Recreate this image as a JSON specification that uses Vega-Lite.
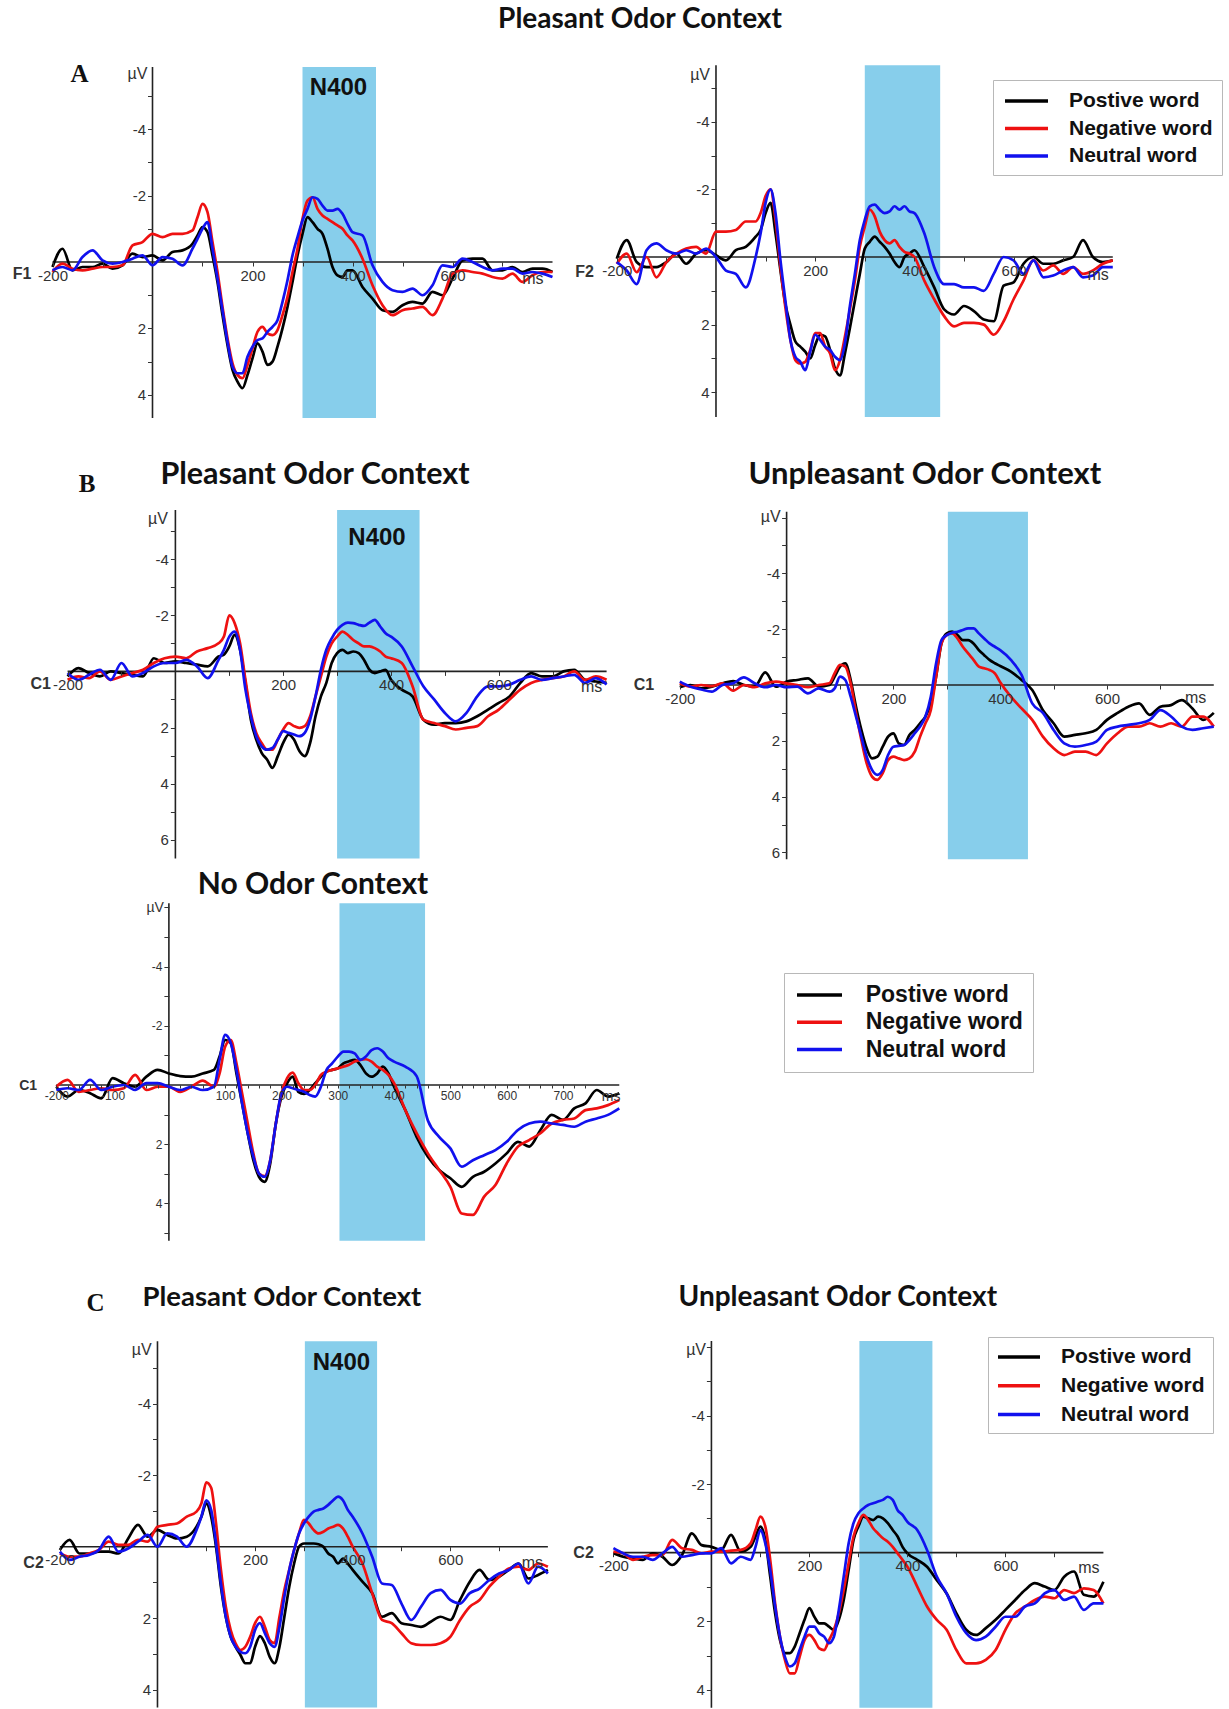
{
"$schema":"https://vega.github.io/schema/vega-lite/v6.json",
"background":"white","padding":0,"spacing":0,"bounds":"flush","align":"each","columns":2,
"config":{"view":{"stroke":null},"font":"Liberation Sans","axis":{"domain":false,"grid":false,"tickColor":"#333","labelFont":"Liberation Sans","labelFontSize":15,"labelColor":"#333","labelOverlap":false,"labelFlush":false,"labelBound":false,"labelPadding":2}},
"resolve":{"scale":{"x":"independent","y":"independent","color":"independent"},"legend":{"color":"independent"}},
"concat":[
{"width":590,"height":445,
"data":{"values":[
{"t":-200,"a":0.15,"b":0.3,"c":0.25},{"t":-180,"a":-0.4,"b":0.05,"c":0.15},{"t":-160,"a":0.25,"b":0.2,"c":0.25},{"t":-140,"a":0.15,"b":0.25,"c":-0.15},{"t":-120,"a":0.15,"b":0.2,"c":-0.35},{"t":-100,"a":0.05,"b":0.15,"c":-0.05},{"t":-80,"a":0.2,"b":0.15,"c":0.05},{"t":-60,"a":0.1,"b":0.1,"c":0.0},{"t":-40,"a":-0.25,"b":-0.5,"c":-0.1},{"t":-20,"a":-0.15,"b":-0.6,"c":-0.2},{"t":0,"a":-0.2,"b":-0.85,"c":0.1},{"t":20,"a":-0.05,"b":-0.75,"c":-0.15},{"t":40,"a":-0.3,"b":-0.85,"c":-0.1},{"t":60,"a":-0.35,"b":-0.85,"c":0.1},{"t":80,"a":-0.55,"b":-0.95,"c":-0.4},{"t":90,"a":-0.8,"b":-1.35,"c":-0.7},{"t":100,"a":-1.05,"b":-1.75,"c":-1.0},{"t":110,"a":-0.9,"b":-1.5,"c":-1.2},{"t":120,"a":-0.2,"b":-0.6,"c":-0.4},{"t":130,"a":0.6,"b":0.3,"c":0.5},{"t":140,"a":1.6,"b":1.35,"c":1.45},{"t":150,"a":2.5,"b":2.3,"c":2.4},{"t":160,"a":3.25,"b":3.05,"c":3.15},{"t":170,"a":3.6,"b":3.4,"c":3.35},{"t":180,"a":3.8,"b":3.5,"c":3.35},{"t":190,"a":3.4,"b":3.1,"c":2.85},{"t":200,"a":2.9,"b":2.6,"c":2.55},{"t":210,"a":2.45,"b":2.1,"c":2.35},{"t":220,"a":2.7,"b":1.95,"c":2.3},{"t":230,"a":3.1,"b":2.15,"c":2.1},{"t":240,"a":3.0,"b":2.2,"c":1.95},{"t":250,"a":2.55,"b":2.05,"c":1.75},{"t":260,"a":2.0,"b":1.6,"c":1.2},{"t":270,"a":1.35,"b":1.05,"c":0.55},{"t":280,"a":0.6,"b":0.3,"c":-0.2},{"t":290,"a":-0.2,"b":-0.4,"c":-0.75},{"t":300,"a":-0.85,"b":-1.3,"c":-1.25},{"t":310,"a":-1.35,"b":-1.85,"c":-1.6},{"t":320,"a":-1.2,"b":-1.95,"c":-1.95},{"t":330,"a":-1.0,"b":-1.6,"c":-1.9},{"t":340,"a":-0.85,"b":-1.4,"c":-1.7},{"t":350,"a":-0.4,"b":-1.3,"c":-1.55},{"t":360,"a":0.15,"b":-1.2,"c":-1.55},{"t":370,"a":0.4,"b":-1.1,"c":-1.6},{"t":380,"a":0.45,"b":-1.0,"c":-1.45},{"t":390,"a":0.25,"b":-0.8,"c":-1.15},{"t":400,"a":0.25,"b":-0.65,"c":-0.9},{"t":420,"a":0.75,"b":-0.1,"c":-0.8},{"t":440,"a":1.1,"b":0.7,"c":0.1},{"t":460,"a":1.45,"b":1.3,"c":0.6},{"t":480,"a":1.5,"b":1.6,"c":0.85},{"t":500,"a":1.3,"b":1.45,"c":0.9},{"t":520,"a":1.2,"b":1.4,"c":0.8},{"t":540,"a":1.25,"b":1.35,"c":1.0},{"t":560,"a":0.9,"b":1.6,"c":0.7},{"t":580,"a":1.0,"b":1.1,"c":0.1},{"t":600,"a":0.5,"b":0.35,"c":0.15},{"t":620,"a":-0.05,"b":0.25,"c":-0.1},{"t":640,"a":-0.1,"b":0.3,"c":0.0},{"t":660,"a":-0.1,"b":0.35,"c":0.15},{"t":680,"a":0.25,"b":0.45,"c":0.25},{"t":700,"a":0.25,"b":0.5,"c":0.2},{"t":720,"a":0.15,"b":0.35,"c":0.2},{"t":740,"a":0.3,"b":0.6,"c":0.35},{"t":760,"a":0.2,"b":0.4,"c":0.3},{"t":780,"a":0.2,"b":0.3,"c":0.35},{"t":800,"a":0.3,"b":0.3,"c":0.45}]},
"encoding":{
"x":{"field":"t","type":"quantitative","scale":{"domain":[-305,875],"nice":false,"zero":false},"axis":{"orient":"bottom","offset":-183,"values":[-200,-100,100,200,300,400,500,600,700],"labelExpr":"datum.value==-200||datum.value==200||datum.value==400||datum.value==600?''+datum.value:''","title":null,"tickSize":4,"zindex":1}},
"y":{"field":"v","type":"quantitative","scale":{"domain":[-7.89,5.51],"reverse":true,"nice":false,"zero":false},"axis":{"orient":"left","offset":-152.5,"values":[-5,-4,-3,-2,-1,1,2,3,4],"labelExpr":"datum.value%2==0?''+datum.value:''","title":null,"tickSize":5,"zindex":1}}},
"layer":[
{"data":{"values":[{"t":300,"t2":447,"v":-5.87,"v2":4.7}]},"mark":{"type":"rect","color":"#87ceeb","opacity":1},"encoding":{"x2":{"field":"t2"},"y2":{"field":"v2"}}},
{"data":{"values":[{"t":-200,"t2":800,"v":0}]},"mark":{"type":"rule","color":"#222","strokeWidth":1.6},"encoding":{"x2":{"field":"t2"}}},
{"data":{"values":[{"t":0,"v":-5.87,"v2":4.7}]},"mark":{"type":"rule","color":"#222","strokeWidth":1.6},"encoding":{"y2":{"field":"v2"}}},
{"transform":[{"fold":["a","b","c"],"as":["w","v"]}],"mark":{"type":"line","strokeWidth":2.7,"interpolate":"monotone"},"encoding":{"color":{"field":"w","type":"nominal","scale":{"domain":["a","b","c"],"range":["#000000","#ee1111","#1111ee"]},"legend":null}}},
{"data":{"values":[{"t":-10,"v":-5.65,"s":"µV"},{"t":782,"v":0.5,"s":"ms"}]},"mark":{"type":"text","align":"right","fontSize":16,"color":"#333","font":"Liberation Sans"},"encoding":{"text":{"field":"s"}}},
{"data":{"values":[{"t":-242,"v":0.36,"s":"F1"}]},"mark":{"type":"text","align":"right","fontSize":16,"fontWeight":"bold","color":"#333","font":"Liberation Sans"},"encoding":{"text":{"field":"s"}}},
{"data":{"values":[{"t":372,"v":-5.25,"s":"N400"}]},"mark":{"type":"text","fontSize":24,"fontWeight":"bold","color":"#111","font":"Liberation Sans"},"encoding":{"text":{"field":"s"}}},
{"data":{"values":[{"t":975,"v":-7.3,"s":"Pleasant Odor Context"}]},"mark":{"type":"text","fontSize":28,"fontWeight":"bold","color":"#111","font":"Lato"},"encoding":{"text":{"field":"s"}}},
{"data":{"values":[{"t":-146,"v":-5.66,"s":"A"}]},"mark":{"type":"text","fontSize":25,"fontWeight":"bold","color":"#111","font":"Liberation Serif"},"encoding":{"text":{"field":"s"}}}
]},
{"width":639,"height":445,
"data":{"values":[
{"t":-200,"a":0.05,"b":0.2,"c":0.15},{"t":-180,"a":-0.5,"b":-0.1,"c":0.4},{"t":-160,"a":0.15,"b":0.45,"c":0.8},{"t":-140,"a":0.3,"b":0.0,"c":-0.2},{"t":-120,"a":0.3,"b":0.6,"c":-0.4},{"t":-100,"a":0.15,"b":0.15,"c":-0.2},{"t":-80,"a":-0.1,"b":-0.1,"c":-0.1},{"t":-60,"a":0.2,"b":-0.25,"c":-0.2},{"t":-40,"a":-0.1,"b":-0.3,"c":-0.1},{"t":-20,"a":-0.2,"b":-0.1,"c":-0.25},{"t":0,"a":-0.05,"b":-0.75,"c":0.0},{"t":20,"a":0.1,"b":-0.75,"c":0.4},{"t":40,"a":-0.2,"b":-0.8,"c":0.5},{"t":60,"a":-0.3,"b":-1.05,"c":0.9},{"t":80,"a":-0.6,"b":-1.05,"c":0.0},{"t":90,"a":-0.8,"b":-1.3,"c":-0.7},{"t":100,"a":-1.3,"b":-1.8,"c":-1.6},{"t":110,"a":-1.6,"b":-2.0,"c":-2.0},{"t":120,"a":-0.7,"b":-1.1,"c":-1.3},{"t":130,"a":0.4,"b":0.3,"c":0.1},{"t":140,"a":1.4,"b":1.5,"c":1.3},{"t":150,"a":2.0,"b":2.45,"c":2.45},{"t":160,"a":2.5,"b":3.05,"c":2.95},{"t":170,"a":2.65,"b":3.15,"c":3.1},{"t":180,"a":2.8,"b":3.1,"c":3.35},{"t":190,"a":3.0,"b":2.75,"c":2.8},{"t":200,"a":2.6,"b":2.25,"c":2.3},{"t":210,"a":2.3,"b":2.25,"c":2.45},{"t":220,"a":2.35,"b":2.65,"c":2.65},{"t":230,"a":2.75,"b":2.85,"c":2.75},{"t":240,"a":3.3,"b":3.35,"c":2.95},{"t":250,"a":3.5,"b":3.05,"c":3.05},{"t":260,"a":2.85,"b":2.35,"c":2.55},{"t":270,"a":2.1,"b":1.55,"c":1.45},{"t":280,"a":1.3,"b":0.7,"c":0.5},{"t":290,"a":0.5,"b":-0.3,"c":-0.5},{"t":300,"a":-0.25,"b":-0.9,"c":-1.1},{"t":310,"a":-0.45,"b":-1.4,"c":-1.5},{"t":320,"a":-0.6,"b":-1.2,"c":-1.55},{"t":330,"a":-0.45,"b":-0.75,"c":-1.4},{"t":340,"a":-0.3,"b":-0.5,"c":-1.3},{"t":350,"a":-0.1,"b":-0.4,"c":-1.35},{"t":360,"a":0.15,"b":-0.5,"c":-1.5},{"t":370,"a":0.3,"b":-0.3,"c":-1.4},{"t":380,"a":0.0,"b":-0.15,"c":-1.5},{"t":390,"a":-0.1,"b":-0.1,"c":-1.35},{"t":400,"a":-0.2,"b":0.0,"c":-1.3},{"t":420,"a":0.3,"b":0.7,"c":-0.7},{"t":440,"a":0.9,"b":1.25,"c":0.3},{"t":460,"a":1.55,"b":1.75,"c":0.8},{"t":480,"a":1.7,"b":2.05,"c":0.8},{"t":500,"a":1.45,"b":1.95,"c":0.9},{"t":520,"a":1.6,"b":1.95,"c":0.9},{"t":540,"a":1.85,"b":2.0,"c":1.0},{"t":560,"a":1.9,"b":2.3,"c":0.5},{"t":580,"a":0.85,"b":1.9,"c":0.0},{"t":600,"a":0.75,"b":1.25,"c":0.1},{"t":620,"a":0.2,"b":0.7,"c":0.5},{"t":640,"a":0.0,"b":0.1,"c":0.1},{"t":660,"a":0.2,"b":0.4,"c":0.6},{"t":680,"a":0.2,"b":0.25,"c":0.55},{"t":700,"a":0.1,"b":0.5,"c":0.4},{"t":720,"a":0.0,"b":0.3,"c":0.3},{"t":740,"a":-0.5,"b":0.5,"c":0.6},{"t":760,"a":0.0,"b":0.4,"c":0.55},{"t":780,"a":0.15,"b":0.2,"c":0.3},{"t":800,"a":0.1,"b":0.1,"c":0.3}]},
"encoding":{
"x":{"field":"t","type":"quantitative","scale":{"domain":[-254,1034.3],"nice":false,"zero":false},"axis":{"orient":"bottom","offset":-188,"values":[-200,-100,100,200,300,400,500,600,700],"labelExpr":"datum.value==-200||datum.value==200||datum.value==400||datum.value==600?''+datum.value:''","title":null,"tickSize":4,"zindex":1}},
"y":{"field":"v","type":"quantitative","scale":{"domain":[-7.6,5.56],"reverse":true,"nice":false,"zero":false},"axis":{"orient":"left","offset":-126,"values":[-5,-4,-3,-2,-1,1,2,3,4],"labelExpr":"datum.value%2==0?''+datum.value:''","title":null,"tickSize":5,"zindex":1}}},
"layer":[
{"data":{"values":[{"t":300,"t2":452,"v":-5.67,"v2":4.73}]},"mark":{"type":"rect","color":"#87ceeb","opacity":1},"encoding":{"x2":{"field":"t2"},"y2":{"field":"v2"}}},
{"data":{"values":[{"t":-200,"t2":800,"v":0}]},"mark":{"type":"rule","color":"#222","strokeWidth":1.6},"encoding":{"x2":{"field":"t2"}}},
{"data":{"values":[{"t":0,"v":-5.67,"v2":4.73}]},"mark":{"type":"rule","color":"#222","strokeWidth":1.6},"encoding":{"y2":{"field":"v2"}}},
{"transform":[{"fold":["a","b","c"],"as":["w","v"]}],"mark":{"type":"line","strokeWidth":2.7,"interpolate":"monotone"},"encoding":{"color":{"field":"w","type":"nominal","scale":{"domain":["a","b","c"],"range":["#000000","#ee1111","#1111ee"]},"legend":{"orient":"none","legendX":403,"legendY":80,"title":null,"padding":9,"strokeColor":"#b8b8b8","fillColor":"#ffffff","symbolType":"M-0.9,0H3.4","symbolSize":400,"symbolStrokeWidth":3.5,"labelFont":"Liberation Sans","labelFontSize":21,"labelFontWeight":"bold","labelColor":"#111","labelOffset":43,"rowPadding":5.5,"labelExpr":"datum.label=='a'?'Postive word':datum.label=='b'?'Negative word':'Neutral word'"}}}},
{"data":{"values":[{"t":-12,"v":-5.38,"s":"µV"},{"t":792,"v":0.53,"s":"ms"}]},"mark":{"type":"text","align":"right","fontSize":16,"color":"#333","font":"Liberation Sans"},"encoding":{"text":{"field":"s"}}},
{"data":{"values":[{"t":-246,"v":0.44,"s":"F2"}]},"mark":{"type":"text","align":"right","fontSize":16,"fontWeight":"bold","color":"#333","font":"Liberation Sans"},"encoding":{"text":{"field":"s"}}}
]},
{"width":590,"height":420,
"data":{"values":[
{"t":-200,"a":0.18,"b":0.3,"c":0.06},{"t":-180,"a":-0.12,"b":0.18,"c":0.3},{"t":-160,"a":0.06,"b":0.24,"c":0.12},{"t":-140,"a":0.18,"b":0.0,"c":-0.06},{"t":-120,"a":0.0,"b":0.3,"c":0.3},{"t":-100,"a":0.06,"b":0.18,"c":-0.3},{"t":-80,"a":0.12,"b":0.06,"c":0.18},{"t":-60,"a":0.18,"b":-0.06,"c":0.06},{"t":-40,"a":-0.47,"b":-0.3,"c":-0.18},{"t":-20,"a":-0.3,"b":-0.47,"c":-0.3},{"t":0,"a":-0.36,"b":-0.53,"c":-0.3},{"t":20,"a":-0.3,"b":-0.47,"c":-0.41},{"t":40,"a":-0.24,"b":-0.71,"c":-0.18},{"t":60,"a":-0.18,"b":-0.83,"c":0.24},{"t":80,"a":-0.53,"b":-1.0,"c":-0.41},{"t":90,"a":-0.6,"b":-1.24,"c":-0.77},{"t":100,"a":-0.89,"b":-2.0,"c":-1.24},{"t":110,"a":-1.3,"b":-1.72,"c":-1.42},{"t":120,"a":-0.77,"b":-1.0,"c":-0.77},{"t":130,"a":0.41,"b":0.3,"c":0.65},{"t":140,"a":1.72,"b":1.48,"c":1.6},{"t":150,"a":2.43,"b":2.19,"c":2.31},{"t":160,"a":2.9,"b":2.55,"c":2.67},{"t":170,"a":3.14,"b":2.79,"c":2.79},{"t":180,"a":3.44,"b":2.79,"c":2.73},{"t":190,"a":3.02,"b":2.43,"c":2.43},{"t":200,"a":2.55,"b":2.07,"c":2.13},{"t":210,"a":2.25,"b":1.84,"c":2.19},{"t":220,"a":2.43,"b":1.95,"c":2.25},{"t":230,"a":2.84,"b":2.01,"c":2.31},{"t":240,"a":3.02,"b":1.95,"c":2.19},{"t":250,"a":2.55,"b":1.6,"c":1.72},{"t":260,"a":1.6,"b":0.89,"c":0.89},{"t":270,"a":0.89,"b":0.18,"c":-0.06},{"t":280,"a":0.41,"b":-0.53,"c":-0.77},{"t":290,"a":-0.3,"b":-1.0,"c":-1.18},{"t":300,"a":-0.65,"b":-1.24,"c":-1.48},{"t":310,"a":-0.77,"b":-1.42,"c":-1.66},{"t":320,"a":-0.65,"b":-1.3,"c":-1.74},{"t":330,"a":-0.71,"b":-1.12,"c":-1.72},{"t":340,"a":-0.65,"b":-1.0,"c":-1.66},{"t":350,"a":-0.41,"b":-0.89,"c":-1.62},{"t":360,"a":-0.06,"b":-0.89,"c":-1.74},{"t":370,"a":0.06,"b":-0.83,"c":-1.84},{"t":380,"a":0.0,"b":-0.71,"c":-1.6},{"t":390,"a":-0.06,"b":-0.53,"c":-1.36},{"t":400,"a":0.3,"b":-0.47,"c":-1.24},{"t":420,"a":0.65,"b":-0.3,"c":-0.89},{"t":440,"a":0.89,"b":0.53,"c":-0.18},{"t":460,"a":1.72,"b":1.72,"c":0.53},{"t":480,"a":1.9,"b":1.84,"c":1.0},{"t":500,"a":1.84,"b":1.95,"c":1.48},{"t":520,"a":1.84,"b":2.07,"c":1.78},{"t":540,"a":1.78,"b":2.01,"c":1.48},{"t":560,"a":1.6,"b":1.95,"c":0.89},{"t":580,"a":1.36,"b":1.6,"c":0.53},{"t":600,"a":1.12,"b":1.36,"c":0.53},{"t":620,"a":0.89,"b":1.0,"c":0.47},{"t":640,"a":0.41,"b":0.65,"c":0.3},{"t":660,"a":0.06,"b":0.41,"c":0.18},{"t":680,"a":0.18,"b":0.3,"c":0.3},{"t":700,"a":0.18,"b":0.24,"c":0.24},{"t":720,"a":0.0,"b":0.18,"c":0.18},{"t":740,"a":-0.06,"b":0.0,"c":0.12},{"t":760,"a":0.3,"b":0.3,"c":0.41},{"t":780,"a":0.36,"b":0.18,"c":0.24},{"t":800,"a":0.41,"b":0.3,"c":0.47}]},
"encoding":{
"x":{"field":"t","type":"quantitative","scale":{"domain":[-325.4,769.2],"nice":false,"zero":false},"axis":{"orient":"bottom","offset":-193.6,"values":[-200,-100,100,200,300,400,500,600,700],"labelExpr":"datum.value==-200||datum.value==200||datum.value==400||datum.value==600?''+datum.value:''","title":null,"tickSize":4,"zindex":1}},
"y":{"field":"v","type":"quantitative","scale":{"domain":[-8.07,6.9],"reverse":true,"nice":false,"zero":false},"axis":{"orient":"left","offset":-175.4,"values":[-5,-4,-3,-2,-1,1,2,3,4,5,6],"labelExpr":"datum.value%2==0?''+datum.value:''","title":null,"tickSize":5,"zindex":1}}},
"layer":[
{"data":{"values":[{"t":300,"t2":453,"v":-5.75,"v2":6.67}]},"mark":{"type":"rect","color":"#87ceeb","opacity":1},"encoding":{"x2":{"field":"t2"},"y2":{"field":"v2"}}},
{"data":{"values":[{"t":-200,"t2":800,"v":0}]},"mark":{"type":"rule","color":"#222","strokeWidth":1.6},"encoding":{"x2":{"field":"t2"}}},
{"data":{"values":[{"t":0,"v":-5.75,"v2":6.67}]},"mark":{"type":"rule","color":"#222","strokeWidth":1.6},"encoding":{"y2":{"field":"v2"}}},
{"transform":[{"fold":["a","b","c"],"as":["w","v"]}],"mark":{"type":"line","strokeWidth":2.7,"interpolate":"monotone"},"encoding":{"color":{"field":"w","type":"nominal","scale":{"domain":["a","b","c"],"range":["#000000","#ee1111","#1111ee"]},"legend":null}}},
{"data":{"values":[{"t":-14,"v":-5.45,"s":"µV"},{"t":792,"v":0.56,"s":"ms"}]},"mark":{"type":"text","align":"right","fontSize":16,"color":"#333","font":"Liberation Sans"},"encoding":{"text":{"field":"s"}}},
{"data":{"values":[{"t":-231,"v":0.45,"s":"C1"}]},"mark":{"type":"text","align":"right","fontSize":16,"fontWeight":"bold","color":"#333","font":"Liberation Sans"},"encoding":{"text":{"field":"s"}}},
{"data":{"values":[{"t":374,"v":-4.74,"s":"N400"}]},"mark":{"type":"text","fontSize":24,"fontWeight":"bold","color":"#111","font":"Liberation Sans"},"encoding":{"text":{"field":"s"}}},
{"data":{"values":[{"t":259,"v":-7.0,"s":"Pleasant Odor Context"}]},"mark":{"type":"text","fontSize":30.5,"fontWeight":"bold","color":"#111","font":"Lato"},"encoding":{"text":{"field":"s"}}},
{"data":{"values":[{"t":-164,"v":-6.67,"s":"B"}]},"mark":{"type":"text","fontSize":25,"fontWeight":"bold","color":"#111","font":"Liberation Serif"},"encoding":{"text":{"field":"s"}}}
]},
{"width":639,"height":420,
"data":{"values":[
{"t":-200,"a":0.08,"b":-0.06,"c":-0.12},{"t":-180,"a":0.0,"b":0.06,"c":0.06},{"t":-160,"a":0.12,"b":0.0,"c":0.16},{"t":-140,"a":0.06,"b":0.04,"c":0.24},{"t":-120,"a":-0.06,"b":-0.06,"c":0.0},{"t":-100,"a":-0.14,"b":0.2,"c":-0.06},{"t":-80,"a":0.0,"b":0.0,"c":-0.27},{"t":-60,"a":0.06,"b":0.08,"c":-0.06},{"t":-40,"a":-0.45,"b":-0.06,"c":0.08},{"t":-20,"a":0.06,"b":-0.12,"c":0.0},{"t":0,"a":-0.12,"b":-0.06,"c":0.08},{"t":20,"a":-0.18,"b":0.0,"c":0.06},{"t":40,"a":-0.24,"b":0.08,"c":0.3},{"t":60,"a":0.06,"b":0.0,"c":0.12},{"t":80,"a":0.0,"b":-0.06,"c":0.24},{"t":90,"a":-0.3,"b":-0.42,"c":0.12},{"t":100,"a":-0.66,"b":-0.72,"c":-0.3},{"t":110,"a":-0.78,"b":-0.66,"c":-0.18},{"t":120,"a":-0.18,"b":-0.06,"c":0.42},{"t":130,"a":0.78,"b":1.0,"c":1.13},{"t":140,"a":1.61,"b":1.97,"c":1.85},{"t":150,"a":2.27,"b":2.81,"c":2.57},{"t":160,"a":2.63,"b":3.28,"c":3.04},{"t":170,"a":2.57,"b":3.4,"c":3.22},{"t":180,"a":2.21,"b":3.16,"c":3.04},{"t":190,"a":1.85,"b":2.69,"c":2.51},{"t":200,"a":1.73,"b":2.57,"c":2.21},{"t":210,"a":2.09,"b":2.63,"c":2.18},{"t":220,"a":2.15,"b":2.69,"c":2.15},{"t":230,"a":1.79,"b":2.63,"c":1.97},{"t":240,"a":1.61,"b":2.39,"c":1.73},{"t":250,"a":1.37,"b":1.85,"c":1.49},{"t":260,"a":1.13,"b":1.37,"c":1.13},{"t":270,"a":0.66,"b":0.9,"c":0.42},{"t":280,"a":-0.3,"b":-0.3,"c":-0.78},{"t":290,"a":-1.49,"b":-1.49,"c":-1.61},{"t":300,"a":-1.85,"b":-1.79,"c":-1.79},{"t":310,"a":-1.91,"b":-1.85,"c":-1.87},{"t":320,"a":-1.79,"b":-1.67,"c":-1.91},{"t":330,"a":-1.61,"b":-1.37,"c":-1.97},{"t":340,"a":-1.61,"b":-1.13,"c":-2.03},{"t":350,"a":-1.49,"b":-0.9,"c":-2.03},{"t":360,"a":-1.25,"b":-0.66,"c":-1.85},{"t":370,"a":-1.07,"b":-0.6,"c":-1.67},{"t":380,"a":-0.9,"b":-0.54,"c":-1.49},{"t":390,"a":-0.78,"b":-0.42,"c":-1.37},{"t":400,"a":-0.68,"b":-0.1,"c":-1.25},{"t":420,"a":-0.48,"b":0.42,"c":-0.9},{"t":440,"a":-0.18,"b":0.84,"c":-0.36},{"t":460,"a":0.18,"b":1.25,"c":0.66},{"t":480,"a":0.9,"b":1.85,"c":1.0},{"t":500,"a":1.37,"b":2.27,"c":1.61},{"t":520,"a":1.85,"b":2.51,"c":2.09},{"t":540,"a":1.79,"b":2.39,"c":2.21},{"t":560,"a":1.73,"b":2.39,"c":2.15},{"t":580,"a":1.61,"b":2.51,"c":2.03},{"t":600,"a":1.25,"b":2.09,"c":1.61},{"t":620,"a":1.0,"b":1.73,"c":1.49},{"t":640,"a":0.78,"b":1.49,"c":1.43},{"t":660,"a":0.66,"b":1.49,"c":1.37},{"t":680,"a":1.07,"b":1.37,"c":1.25},{"t":700,"a":0.78,"b":1.49,"c":0.9},{"t":720,"a":0.72,"b":1.37,"c":1.13},{"t":740,"a":0.54,"b":1.49,"c":1.49},{"t":760,"a":0.84,"b":1.13,"c":1.61},{"t":780,"a":1.25,"b":1.13,"c":1.55},{"t":800,"a":1.0,"b":1.49,"c":1.49}]},
"encoding":{
"x":{"field":"t","type":"quantitative","scale":{"domain":[-368.2,828.5],"nice":false,"zero":false},"axis":{"orient":"bottom","offset":-180,"values":[-200,-100,100,200,300,400,500,600,700],"labelExpr":"datum.value==-200||datum.value==200||datum.value==400||datum.value==600?''+datum.value:''","title":null,"tickSize":4,"zindex":1}},
"y":{"field":"v","type":"quantitative","scale":{"domain":[-8.6,6.45],"reverse":true,"nice":false,"zero":false},"axis":{"orient":"left","offset":-196.6,"values":[-6,-5,-4,-3,-2,-1,1,2,3,4,5,6],"labelExpr":"datum.value%2==0&&datum.value>-6?''+datum.value:''","title":null,"tickSize":5,"zindex":1}}},
"layer":[
{"data":{"values":[{"t":302,"t2":452,"v":-6.21,"v2":6.24}]},"mark":{"type":"rect","color":"#87ceeb","opacity":1},"encoding":{"x2":{"field":"t2"},"y2":{"field":"v2"}}},
{"data":{"values":[{"t":-200,"t2":800,"v":0}]},"mark":{"type":"rule","color":"#222","strokeWidth":1.6},"encoding":{"x2":{"field":"t2"}}},
{"data":{"values":[{"t":0,"v":-6.21,"v2":6.24}]},"mark":{"type":"rule","color":"#222","strokeWidth":1.6},"encoding":{"y2":{"field":"v2"}}},
{"transform":[{"fold":["a","b","c"],"as":["w","v"]}],"mark":{"type":"line","strokeWidth":2.7,"interpolate":"monotone"},"encoding":{"color":{"field":"w","type":"nominal","scale":{"domain":["a","b","c"],"range":["#000000","#ee1111","#1111ee"]},"legend":null}}},
{"data":{"values":[{"t":-11,"v":-6.03,"s":"µV"},{"t":786,"v":0.48,"s":"ms"}]},"mark":{"type":"text","align":"right","fontSize":16,"color":"#333","font":"Liberation Sans"},"encoding":{"text":{"field":"s"}}},
{"data":{"values":[{"t":-248,"v":0.0,"s":"C1"}]},"mark":{"type":"text","align":"right","fontSize":16,"fontWeight":"bold","color":"#333","font":"Liberation Sans"},"encoding":{"text":{"field":"s"}}},
{"data":{"values":[{"t":259,"v":-7.53,"s":"Unpleasant Odor Context"}]},"mark":{"type":"text","fontSize":31,"fontWeight":"bold","color":"#111","font":"Lato"},"encoding":{"text":{"field":"s"}}}
]},
{"width":590,"height":400,
"data":{"values":[
{"t":-200,"a":0.06,"b":0.06,"c":0.17},{"t":-180,"a":0.39,"b":-0.17,"c":0.11},{"t":-160,"a":0.17,"b":0.23,"c":0.17},{"t":-140,"a":0.28,"b":0.17,"c":-0.17},{"t":-120,"a":0.45,"b":0.11,"c":0.17},{"t":-100,"a":-0.23,"b":0.17,"c":0.06},{"t":-80,"a":-0.06,"b":0.11,"c":0.0},{"t":-60,"a":0.06,"b":-0.34,"c":0.17},{"t":-40,"a":-0.28,"b":0.17,"c":-0.06},{"t":-20,"a":-0.51,"b":0.06,"c":-0.06},{"t":0,"a":-0.39,"b":0.06,"c":0.06},{"t":20,"a":-0.3,"b":0.23,"c":0.17},{"t":40,"a":-0.28,"b":0.06,"c":0.06},{"t":60,"a":-0.39,"b":-0.15,"c":0.17},{"t":80,"a":-0.51,"b":0.06,"c":0.06},{"t":90,"a":-0.96,"b":-0.39,"c":-0.85},{"t":100,"a":-1.52,"b":-1.3,"c":-1.69},{"t":110,"a":-1.41,"b":-1.52,"c":-1.41},{"t":120,"a":-0.39,"b":-0.73,"c":-0.51},{"t":130,"a":0.62,"b":0.28,"c":0.62},{"t":140,"a":1.63,"b":1.3,"c":1.63},{"t":150,"a":2.54,"b":2.31,"c":2.42},{"t":160,"a":3.1,"b":2.99,"c":2.99},{"t":170,"a":3.27,"b":3.08,"c":3.1},{"t":180,"a":2.65,"b":2.54,"c":2.54},{"t":190,"a":1.3,"b":1.3,"c":1.3},{"t":200,"a":0.39,"b":0.28,"c":0.28},{"t":210,"a":-0.06,"b":-0.23,"c":0.06},{"t":220,"a":-0.28,"b":-0.42,"c":0.11},{"t":230,"a":0.23,"b":-0.06,"c":0.17},{"t":240,"a":0.3,"b":0.17,"c":0.23},{"t":250,"a":0.17,"b":0.17,"c":0.34},{"t":260,"a":-0.06,"b":0.0,"c":0.39},{"t":270,"a":-0.28,"b":-0.34,"c":0.06},{"t":280,"a":-0.45,"b":-0.45,"c":-0.51},{"t":290,"a":-0.51,"b":-0.51,"c":-0.73},{"t":300,"a":-0.56,"b":-0.56,"c":-0.96},{"t":310,"a":-0.73,"b":-0.62,"c":-1.13},{"t":320,"a":-0.8,"b":-0.68,"c":-1.13},{"t":330,"a":-0.85,"b":-0.79,"c":-1.07},{"t":340,"a":-0.68,"b":-0.85,"c":-0.85},{"t":350,"a":-0.39,"b":-0.87,"c":-0.96},{"t":360,"a":-0.28,"b":-0.79,"c":-1.18},{"t":370,"a":-0.39,"b":-0.62,"c":-1.24},{"t":380,"a":-0.62,"b":-0.51,"c":-1.13},{"t":390,"a":-0.39,"b":-0.34,"c":-0.9},{"t":400,"a":0.06,"b":-0.06,"c":-0.79},{"t":420,"a":0.85,"b":0.85,"c":-0.62},{"t":440,"a":1.75,"b":1.63,"c":-0.3},{"t":460,"a":2.42,"b":2.31,"c":1.2},{"t":480,"a":2.87,"b":2.87,"c":1.75},{"t":500,"a":3.15,"b":3.44,"c":2.14},{"t":520,"a":3.44,"b":4.34,"c":2.76},{"t":540,"a":3.1,"b":4.39,"c":2.54},{"t":560,"a":2.93,"b":3.77,"c":2.37},{"t":580,"a":2.65,"b":3.38,"c":2.2},{"t":600,"a":2.31,"b":2.65,"c":1.92},{"t":620,"a":1.92,"b":2.08,"c":1.52},{"t":640,"a":2.08,"b":1.86,"c":1.3},{"t":660,"a":1.52,"b":1.63,"c":1.24},{"t":680,"a":1.01,"b":1.3,"c":1.3},{"t":700,"a":1.18,"b":1.18,"c":1.35},{"t":720,"a":0.79,"b":1.13,"c":1.41},{"t":740,"a":0.62,"b":0.85,"c":1.24},{"t":760,"a":0.17,"b":0.79,"c":1.13},{"t":780,"a":0.39,"b":0.68,"c":1.01},{"t":800,"a":0.28,"b":0.51,"c":0.79}]},
"encoding":{
"x":{"field":"t","type":"quantitative","scale":{"domain":[-300,748],"nice":false,"zero":false},"axis":{"orient":"bottom","offset":-180,"values":[-200,-180,-160,-140,-120,-100,-80,-60,-40,-20,20,40,60,80,100,120,140,160,180,200,220,240,260,280,300,320,340,360,380,400,420,440,460,480,500,520,540,560,580,600,620,640,660,680,700,720,740,760,780,800],"labelExpr":"datum.value%100==0&&datum.value<800?''+datum.value:''","title":null,"tickSize":3,"labelFontSize":12,"zindex":1}},
"y":{"field":"v","type":"quantitative","scale":{"domain":[-7.43,6.08],"reverse":true,"nice":false,"zero":false},"axis":{"orient":"left","offset":-168.9,"values":[-6,-5,-4,-3,-2,-1,1,2,3,4,5],"labelExpr":"datum.value%2==0&&datum.value>-6?''+datum.value:''","title":null,"tickSize":5,"labelFontSize":12,"zindex":1}}},
"layer":[
{"data":{"values":[{"t":303,"t2":455,"v":-6.14,"v2":5.26}]},"mark":{"type":"rect","color":"#87ceeb","opacity":1},"encoding":{"x2":{"field":"t2"},"y2":{"field":"v2"}}},
{"data":{"values":[{"t":-200,"t2":800,"v":0}]},"mark":{"type":"rule","color":"#222","strokeWidth":1.6},"encoding":{"x2":{"field":"t2"}}},
{"data":{"values":[{"t":0,"v":-6.14,"v2":5.26}]},"mark":{"type":"rule","color":"#222","strokeWidth":1.6},"encoding":{"y2":{"field":"v2"}}},
{"transform":[{"fold":["a","b","c"],"as":["w","v"]}],"mark":{"type":"line","strokeWidth":2.7,"interpolate":"monotone"},"encoding":{"color":{"field":"w","type":"nominal","scale":{"domain":["a","b","c"],"range":["#000000","#ee1111","#1111ee"]},"legend":{"orient":"none","legendX":784,"legendY":108,"title":null,"padding":10,"strokeColor":"#b8b8b8","fillColor":"#ffffff","symbolType":"M-0.9,0H3.6","symbolSize":400,"symbolStrokeWidth":3.5,"labelFont":"Liberation Sans","labelFontSize":23,"labelFontWeight":"bold","labelColor":"#111","labelOffset":47.7,"rowPadding":3.3,"labelExpr":"datum.label=='a'?'Postive word':datum.label=='b'?'Negative word':'Neutral word'"}}}},
{"data":{"values":[{"t":-9,"v":-5.97,"s":"µV"},{"t":802,"v":0.4,"s":"ms"}]},"mark":{"type":"text","align":"right","fontSize":14,"color":"#333","font":"Liberation Sans"},"encoding":{"text":{"field":"s"}}},
{"data":{"values":[{"t":-234,"v":0.05,"s":"C1"}]},"mark":{"type":"text","align":"right","fontSize":14,"fontWeight":"bold","color":"#333","font":"Liberation Sans"},"encoding":{"text":{"field":"s"}}},
{"data":{"values":[{"t":256,"v":-6.76,"s":"No Odor Context"}]},"mark":{"type":"text","fontSize":30,"fontWeight":"bold","color":"#111","font":"Lato"},"encoding":{"text":{"field":"s"}}}
]},
{"width":639,"height":400,"data":{"values":[{"k":1}]},"mark":{"type":"point","opacity":0},"encoding":{}},
{"width":590,"height":444,
"data":{"values":[
{"t":-200,"a":0.09,"b":0.19,"c":0.14},{"t":-180,"a":-0.19,"b":0.28,"c":0.37},{"t":-160,"a":0.19,"b":0.28,"c":0.28},{"t":-140,"a":0.19,"b":0.19,"c":0.23},{"t":-120,"a":0.14,"b":0.09,"c":0.09},{"t":-100,"a":0.14,"b":-0.14,"c":-0.28},{"t":-80,"a":0.19,"b":-0.05,"c":0.14},{"t":-60,"a":-0.23,"b":-0.05,"c":0.05},{"t":-40,"a":-0.61,"b":-0.19,"c":-0.14},{"t":-20,"a":-0.28,"b":-0.14,"c":-0.33},{"t":0,"a":-0.47,"b":-0.56,"c":0.0},{"t":20,"a":-0.33,"b":-0.61,"c":-0.37},{"t":40,"a":-0.23,"b":-0.65,"c":-0.28},{"t":60,"a":-0.28,"b":-0.84,"c":0.0},{"t":80,"a":-0.56,"b":-0.98,"c":-0.47},{"t":90,"a":-0.84,"b":-1.21,"c":-0.84},{"t":100,"a":-1.21,"b":-1.8,"c":-1.3},{"t":110,"a":-0.84,"b":-1.65,"c":-1.03},{"t":120,"a":0.0,"b":-0.65,"c":-0.09},{"t":130,"a":1.12,"b":0.65,"c":1.03},{"t":140,"a":1.96,"b":1.68,"c":1.96},{"t":150,"a":2.52,"b":2.33,"c":2.52},{"t":160,"a":2.8,"b":2.7,"c":2.8},{"t":170,"a":3.03,"b":2.89,"c":2.94},{"t":180,"a":3.26,"b":2.8,"c":2.98},{"t":190,"a":3.26,"b":2.52,"c":2.8},{"t":200,"a":2.8,"b":2.14,"c":2.33},{"t":210,"a":2.5,"b":1.96,"c":2.14},{"t":220,"a":2.7,"b":2.24,"c":2.42},{"t":230,"a":3.08,"b":2.61,"c":2.7},{"t":240,"a":3.26,"b":2.7,"c":2.8},{"t":250,"a":2.8,"b":1.96,"c":2.24},{"t":260,"a":1.96,"b":1.21,"c":1.4},{"t":270,"a":1.12,"b":0.65,"c":0.65},{"t":280,"a":0.47,"b":0.09,"c":0.09},{"t":290,"a":0.0,"b":-0.37,"c":-0.37},{"t":300,"a":-0.09,"b":-0.75,"c":-0.65},{"t":310,"a":-0.09,"b":-0.65,"c":-0.84},{"t":320,"a":-0.09,"b":-0.47,"c":-0.98},{"t":330,"a":-0.07,"b":-0.37,"c":-1.03},{"t":340,"a":0.0,"b":-0.42,"c":-1.07},{"t":350,"a":0.19,"b":-0.51,"c":-1.17},{"t":360,"a":0.28,"b":-0.56,"c":-1.3},{"t":370,"a":0.47,"b":-0.61,"c":-1.4},{"t":380,"a":0.33,"b":-0.51,"c":-1.3},{"t":390,"a":0.47,"b":-0.28,"c":-1.03},{"t":400,"a":0.65,"b":0.0,"c":-0.84},{"t":420,"a":0.98,"b":0.47,"c":-0.37},{"t":440,"a":1.3,"b":1.3,"c":0.28},{"t":460,"a":1.96,"b":2.05,"c":1.03},{"t":480,"a":1.86,"b":2.14,"c":1.07},{"t":500,"a":2.14,"b":2.42,"c":1.59},{"t":520,"a":2.19,"b":2.7,"c":2.05},{"t":540,"a":2.24,"b":2.75,"c":1.68},{"t":560,"a":2.1,"b":2.75,"c":1.3},{"t":580,"a":1.96,"b":2.7,"c":1.21},{"t":600,"a":2.05,"b":2.52,"c":1.49},{"t":620,"a":1.49,"b":2.05,"c":1.59},{"t":640,"a":0.98,"b":1.68,"c":1.3},{"t":660,"a":0.65,"b":1.49,"c":1.17},{"t":680,"a":0.93,"b":1.12,"c":0.93},{"t":700,"a":0.84,"b":0.84,"c":0.75},{"t":720,"a":0.65,"b":0.61,"c":0.65},{"t":740,"a":0.47,"b":0.56,"c":0.47},{"t":760,"a":0.89,"b":0.65,"c":1.03},{"t":780,"a":0.79,"b":0.47,"c":0.56},{"t":800,"a":0.65,"b":0.56,"c":0.75}]},
"encoding":{
"x":{"field":"t","type":"quantitative","scale":{"domain":[-322.7,886.3],"nice":false,"zero":false},"axis":{"orient":"bottom","offset":-162.3,"values":[-200,-100,100,200,300,400,500,600,700],"labelExpr":"datum.value==-200||datum.value==200||datum.value==400||datum.value==600?''+datum.value:''","title":null,"tickSize":4,"zindex":1}},
"y":{"field":"v","type":"quantitative","scale":{"domain":[-7.88,4.54],"reverse":true,"nice":false,"zero":false},"axis":{"orient":"left","offset":-157.5,"values":[-5,-4,-3,-2,-1,1,2,3,4],"labelExpr":"datum.value%2==0?''+datum.value:''","title":null,"tickSize":5,"zindex":1}}},
"layer":[
{"data":{"values":[{"t":302,"t2":450,"v":-5.75,"v2":4.5}]},"mark":{"type":"rect","color":"#87ceeb","opacity":1},"encoding":{"x2":{"field":"t2"},"y2":{"field":"v2"}}},
{"data":{"values":[{"t":-200,"t2":800,"v":0}]},"mark":{"type":"rule","color":"#222","strokeWidth":1.6},"encoding":{"x2":{"field":"t2"}}},
{"data":{"values":[{"t":0,"v":-5.75,"v2":4.5}]},"mark":{"type":"rule","color":"#222","strokeWidth":1.6},"encoding":{"y2":{"field":"v2"}}},
{"transform":[{"fold":["a","b","c"],"as":["w","v"]}],"mark":{"type":"line","strokeWidth":2.7,"interpolate":"monotone"},"encoding":{"color":{"field":"w","type":"nominal","scale":{"domain":["a","b","c"],"range":["#000000","#ee1111","#1111ee"]},"legend":null}}},
{"data":{"values":[{"t":-12,"v":-5.5,"s":"µV"},{"t":790,"v":0.45,"s":"ms"}]},"mark":{"type":"text","align":"right","fontSize":16,"color":"#333","font":"Liberation Sans"},"encoding":{"text":{"field":"s"}}},
{"data":{"values":[{"t":-233,"v":0.45,"s":"C2"}]},"mark":{"type":"text","align":"right","fontSize":16,"fontWeight":"bold","color":"#333","font":"Liberation Sans"},"encoding":{"text":{"field":"s"}}},
{"data":{"values":[{"t":377,"v":-5.13,"s":"N400"}]},"mark":{"type":"text","fontSize":24,"fontWeight":"bold","color":"#111","font":"Liberation Sans"},"encoding":{"text":{"field":"s"}}},
{"data":{"values":[{"t":255,"v":-6.96,"s":"Pleasant Odor Context"}]},"mark":{"type":"text","fontSize":27.5,"fontWeight":"bold","color":"#111","font":"Lato"},"encoding":{"text":{"field":"s"}}},
{"data":{"values":[{"t":-127,"v":-6.82,"s":"C"}]},"mark":{"type":"text","fontSize":25,"fontWeight":"bold","color":"#111","font":"Liberation Serif"},"encoding":{"text":{"field":"s"}}}
]},
{"width":639,"height":444,
"data":{"values":[
{"t":-200,"a":0.02,"b":-0.03,"c":-0.13},{"t":-180,"a":0.12,"b":0.02,"c":0.02},{"t":-160,"a":0.17,"b":0.21,"c":0.12},{"t":-140,"a":0.21,"b":0.12,"c":0.12},{"t":-120,"a":0.02,"b":0.07,"c":0.21},{"t":-100,"a":0.12,"b":0.07,"c":0.02},{"t":-80,"a":0.36,"b":-0.37,"c":-0.17},{"t":-60,"a":0.07,"b":-0.13,"c":0.12},{"t":-40,"a":-0.56,"b":-0.08,"c":0.07},{"t":-20,"a":-0.22,"b":0.02,"c":0.02},{"t":0,"a":-0.17,"b":-0.03,"c":0.02},{"t":20,"a":-0.08,"b":-0.03,"c":-0.13},{"t":40,"a":-0.52,"b":-0.06,"c":0.31},{"t":60,"a":-0.03,"b":-0.08,"c":0.12},{"t":80,"a":-0.17,"b":-0.27,"c":0.21},{"t":90,"a":-0.47,"b":-0.66,"c":-0.17},{"t":100,"a":-0.76,"b":-1.05,"c":-0.66},{"t":110,"a":-0.37,"b":-0.76,"c":-0.27},{"t":120,"a":0.7,"b":0.21,"c":0.51},{"t":130,"a":1.77,"b":1.48,"c":1.57},{"t":140,"a":2.55,"b":2.45,"c":2.45},{"t":150,"a":2.93,"b":3.13,"c":3.04},{"t":160,"a":2.93,"b":3.52,"c":3.32},{"t":170,"a":2.74,"b":3.52,"c":3.23},{"t":180,"a":2.35,"b":3.04,"c":2.84},{"t":190,"a":1.96,"b":2.55,"c":2.45},{"t":200,"a":1.62,"b":2.4,"c":2.16},{"t":210,"a":1.87,"b":2.55,"c":2.16},{"t":220,"a":2.06,"b":2.79,"c":2.35},{"t":230,"a":2.06,"b":2.84,"c":2.45},{"t":240,"a":2.16,"b":2.55,"c":2.64},{"t":250,"a":2.25,"b":2.25,"c":2.45},{"t":260,"a":1.96,"b":1.77,"c":1.67},{"t":270,"a":1.38,"b":1.09,"c":0.7},{"t":280,"a":0.51,"b":0.31,"c":-0.27},{"t":290,"a":-0.37,"b":-0.47,"c":-0.86},{"t":300,"a":-0.76,"b":-0.86,"c":-1.15},{"t":310,"a":-1.05,"b":-1.1,"c":-1.29},{"t":320,"a":-1.0,"b":-0.95,"c":-1.39},{"t":330,"a":-0.95,"b":-0.71,"c":-1.44},{"t":340,"a":-1.05,"b":-0.56,"c":-1.49},{"t":350,"a":-1.0,"b":-0.42,"c":-1.54},{"t":360,"a":-0.86,"b":-0.32,"c":-1.63},{"t":370,"a":-0.66,"b":-0.17,"c":-1.54},{"t":380,"a":-0.47,"b":0.02,"c":-1.24},{"t":390,"a":-0.17,"b":0.21,"c":-1.1},{"t":400,"a":0.02,"b":0.41,"c":-0.9},{"t":420,"a":0.21,"b":0.99,"c":-0.66},{"t":440,"a":0.41,"b":1.57,"c":-0.08},{"t":460,"a":0.8,"b":1.96,"c":0.7},{"t":480,"a":1.19,"b":2.25,"c":1.19},{"t":500,"a":1.77,"b":2.84,"c":1.87},{"t":520,"a":2.25,"b":3.23,"c":2.35},{"t":540,"a":2.4,"b":3.23,"c":2.55},{"t":560,"a":2.2,"b":3.13,"c":2.45},{"t":580,"a":1.96,"b":2.84,"c":2.16},{"t":600,"a":1.67,"b":2.25,"c":1.87},{"t":620,"a":1.38,"b":1.77,"c":1.87},{"t":640,"a":1.09,"b":1.57,"c":1.57},{"t":660,"a":0.89,"b":1.38,"c":1.48},{"t":680,"a":0.99,"b":1.28,"c":1.19},{"t":700,"a":1.09,"b":1.33,"c":1.09},{"t":720,"a":0.7,"b":1.09,"c":1.38},{"t":740,"a":0.55,"b":1.18,"c":1.28},{"t":760,"a":1.23,"b":1.04,"c":1.67},{"t":780,"a":1.28,"b":1.09,"c":1.48},{"t":800,"a":0.85,"b":1.48,"c":1.48}]},
"encoding":{
"x":{"field":"t","type":"quantitative","scale":{"domain":[-247.8,1056.3],"nice":false,"zero":false},"axis":{"orient":"bottom","offset":-156.3,"values":[-200,-100,100,200,300,400,500,600,700],"labelExpr":"datum.value==-200||datum.value==200||datum.value==400||datum.value==600?''+datum.value:''","title":null,"tickSize":4,"zindex":1}},
"y":{"field":"v","type":"quantitative","scale":{"domain":[-8.39,4.56],"reverse":true,"nice":false,"zero":false},"axis":{"orient":"left","offset":-121.4,"values":[-6,-5,-4,-3,-2,-1,1,2,3,4],"labelExpr":"datum.value%2==0&&datum.value>-6?''+datum.value:''","title":null,"tickSize":5,"zindex":1}}},
"layer":[
{"data":{"values":[{"t":302,"t2":451,"v":-6.17,"v2":4.52}]},"mark":{"type":"rect","color":"#87ceeb","opacity":1},"encoding":{"x2":{"field":"t2"},"y2":{"field":"v2"}}},
{"data":{"values":[{"t":-200,"t2":800,"v":0}]},"mark":{"type":"rule","color":"#222","strokeWidth":1.6},"encoding":{"x2":{"field":"t2"}}},
{"data":{"values":[{"t":0,"v":-6.17,"v2":4.52}]},"mark":{"type":"rule","color":"#222","strokeWidth":1.6},"encoding":{"y2":{"field":"v2"}}},
{"transform":[{"fold":["a","b","c"],"as":["w","v"]}],"mark":{"type":"line","strokeWidth":2.7,"interpolate":"monotone"},"encoding":{"color":{"field":"w","type":"nominal","scale":{"domain":["a","b","c"],"range":["#000000","#ee1111","#1111ee"]},"legend":{"orient":"none","legendX":398,"legendY":72,"title":null,"padding":8,"strokeColor":"#b8b8b8","fillColor":"#ffffff","symbolType":"M-1,0H3.2","symbolSize":400,"symbolStrokeWidth":3.5,"labelFont":"Liberation Sans","labelFontSize":21,"labelFontWeight":"bold","labelColor":"#111","labelOffset":41,"rowPadding":6.8,"labelExpr":"datum.label=='a'?'Postive word':datum.label=='b'?'Negative word':'Neutral word'"}}}},
{"data":{"values":[{"t":-11,"v":-5.9,"s":"µV"},{"t":792,"v":0.46,"s":"ms"}]},"mark":{"type":"text","align":"right","fontSize":16,"color":"#333","font":"Liberation Sans"},"encoding":{"text":{"field":"s"}}},
{"data":{"values":[{"t":-240,"v":0.0,"s":"C2"}]},"mark":{"type":"text","align":"right","fontSize":16,"fontWeight":"bold","color":"#333","font":"Liberation Sans"},"encoding":{"text":{"field":"s"}}},
{"data":{"values":[{"t":258,"v":-7.43,"s":"Unpleasant Odor Context"}]},"mark":{"type":"text","fontSize":28,"fontWeight":"bold","color":"#111","font":"Lato"},"encoding":{"text":{"field":"s"}}}
]}
]
}
